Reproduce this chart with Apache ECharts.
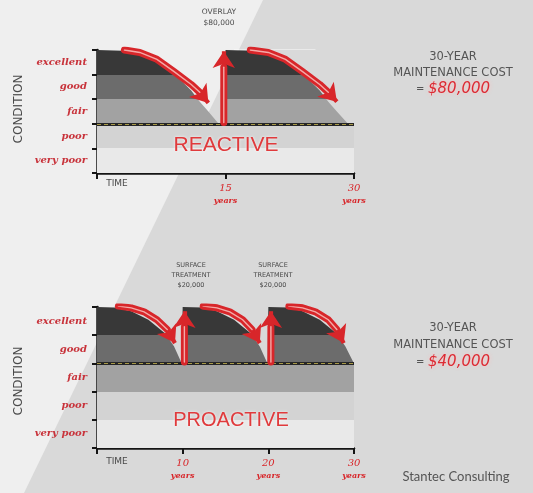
<!DOCTYPE html>
<html><head><meta charset="utf-8">
<script src="https://cdn.jsdelivr.net/npm/echarts@6/dist/echarts.min.js"></script>
<style>html,body{margin:0;padding:0;background:#efefef}#c{width:533px;height:493px}</style>
</head><body><div id="c"></div><script>
// ---- data ----
const conditionLevels = ['very poor', 'poor', 'fair', 'good', 'excellent'];
const reactiveTicks = [15, 30];
const proactiveTicks = [10, 20, 30];

const reactiveYears = [0, 3, 5, 7, 9, 10, 11, 12, 13, 14.2, 15, 15, 18, 20, 22, 24, 25, 26, 27, 28, 29.3, 30];
const reactiveCondition = [5, 4.97, 4.82, 4.55, 4.0, 3.7, 3.35, 2.9, 2.5, 2.0, 2.0, 5, 4.97, 4.82, 4.55, 4.0, 3.7, 3.35, 2.9, 2.5, 2.0, 2.0];
const reactiveThreshold = 2;

const proactiveYears = [0, 2, 4, 6, 8, 9, 9.9, 10, 10, 12.3, 14, 16, 18, 19, 19.9, 20, 20, 22.3, 24, 26, 28, 29, 30];
const proactiveCondition = [5, 4.98, 4.85, 4.55, 4.05, 3.6, 3.0, 3.0, 5, 4.98, 4.85, 4.55, 4.05, 3.6, 3.0, 3.0, 5, 4.98, 4.85, 4.55, 4.05, 3.6, 3.0];
const proactiveThreshold = 3;

// decorative arrows [year, condition]
const reactiveDownArrows = [
  [[3.2, 5.0], [5, 4.9], [7, 4.62], [9, 4.12], [11, 3.6], [12, 3.28], [13, 2.85]],
  [[17.9, 5.0], [20, 4.9], [22, 4.62], [24, 4.12], [26, 3.6], [27, 3.28], [28, 2.9]]
];
const reactiveUpArrows = [[[14.8, 2.05], [14.8, 4.3], [14.8, 4.95]]];
const proactiveDownArrows = [
  [[2.5, 5.03], [4, 4.97], [5.5, 4.83], [7, 4.55], [8.2, 4.2], [9.1, 3.72]],
  [[12.4, 5.03], [14, 4.97], [15.5, 4.83], [17, 4.55], [18.1, 4.2], [19.0, 3.72]],
  [[22.4, 5.03], [24, 4.97], [25.5, 4.83], [27, 4.55], [28, 4.2], [28.8, 3.72]]
];
const proactiveUpArrows = [[[10.2, 3.05], [10.2, 4.3], [10.2, 4.85]], [[20.3, 3.05], [20.3, 4.3], [20.3, 4.85]]];
const reactiveTopLine = [[16, 5.02], [25.5, 5.02]];

// ---- chart ----
const RED = '#d8262a';
const bandPieces = [
  { gte: 0, lt: 1, color: '#e9e9e9' },
  { gte: 1, lt: 2, color: '#d3d3d3' },
  { gte: 2, lt: 3, color: '#a2a2a2' },
  { gte: 3, lt: 4, color: '#6c6c6c' },
  { gte: 4, lte: 6, color: '#383838' }
];

function zip(xs, ys) { return xs.map((x, i) => [x, ys[i]]); }

function arrowSeries(paths, xi, yi, w) {
  const bodies = paths.map(p => ({ coords: p.slice(0, -1) }));
  const heads = paths.map(p => ({ coords: p.slice(-2) }));
  return [
    { type: 'lines', coordinateSystem: 'cartesian2d', xAxisIndex: xi, yAxisIndex: yi, polyline: true, z: 5,
      lineStyle: { color: RED, width: w, opacity: 1, cap: 'round', join: 'round' }, data: bodies, silent: true },
    { type: 'lines', coordinateSystem: 'cartesian2d', xAxisIndex: xi, yAxisIndex: yi, z: 5,
      symbol: ['none', 'arrow'], symbolSize: [w * 2.4, w * 2.4],
      lineStyle: { color: RED, width: w * 0.6, opacity: 1 }, data: heads, silent: true },
    { type: 'lines', coordinateSystem: 'cartesian2d', xAxisIndex: xi, yAxisIndex: yi, polyline: true, z: 6,
      lineStyle: { color: '#f6b9b6', width: w * 0.2, opacity: 0.9, cap: 'round' }, data: bodies, silent: true }
  ];
}

function xAxisCfg(gi, interval) {
  return {
    gridIndex: gi, type: 'value', min: 0, max: 30, interval: interval,
    axisLine: { lineStyle: { color: '#151515', width: 2.5 } },
    axisTick: { length: 6, lineStyle: { color: '#151515', width: 2 } },
    splitLine: { show: false },
    axisLabel: {
      margin: 9, lineHeight: 13,
      formatter: v => v === 0 ? '' : '{n|' + v + '}\n{y|years}',
      rich: {
        n: { color: RED, fontSize: 10, fontStyle: 'italic', fontFamily: 'DejaVu Serif', lineHeight: 13 },
        y: { color: RED, fontSize: 8, fontStyle: 'italic', fontWeight: 'bold', fontFamily: 'DejaVu Serif', lineHeight: 12 }
      }
    }
  };
}
function yValueCfg(gi) {
  return {
    gridIndex: gi, type: 'value', min: 0, max: 5, interval: 1, position: 'left',
    axisLine: { show: true, lineStyle: { color: '#151515', width: 2.5 } },
    axisTick: { show: true, length: 5, lineStyle: { color: '#151515', width: 2 } },
    axisLabel: { show: false }, splitLine: { show: false }
  };
}
function yCatCfg(gi) {
  return {
    gridIndex: gi, type: 'category', data: conditionLevels, position: 'left', boundaryGap: true,
    axisLine: { show: false }, axisTick: { show: false }, splitLine: { show: false },
    axisLabel: { margin: 10, color: '#c8323a', fontSize: 10, fontStyle: 'italic', fontWeight: 'bold', fontFamily: 'DejaVu Serif' }
  };
}

function dashedThreshold(level) {
  return {
    silent: true, symbol: 'none', z: 4, label: { show: false },
    data: [
      { yAxis: level, lineStyle: { color: '#262626', width: 3, type: 'solid' } },
      { yAxis: level, lineStyle: { color: '#a89a48', width: 1.2, type: [4, 3] } }
    ]
  };
}

const smallCaps = { fontFamily: 'DejaVu Sans', fill: '#4a4a4a', align: 'center', verticalAlign: 'middle' };
function txt(x, y, text, style, rot) {
  return { type: 'text', x: x, y: y, z: 50, rotation: rot || 0, style: Object.assign({}, smallCaps, { text: text }, style) };
}

const costRich = {
  e: { fontSize: 10, fill: '#555', fontFamily: 'DejaVu Sans' },
  r: { fontSize: 15, fill: '#dd2a33', fontFamily: 'DejaVu Sans', fontStyle: 'italic',
       textShadowColor: 'rgba(255,190,190,0.95)', textShadowBlur: 4 }
};

const option = {
  backgroundColor: '#efefef',
  animation: false,
  grid: [
    { left: 97, top: 50, width: 257, height: 123 },
    { left: 97, top: 307, width: 257, height: 141 }
  ],
  xAxis: [xAxisCfg(0, 15), xAxisCfg(1, 10)],
  yAxis: [yValueCfg(0), yCatCfg(0), yValueCfg(1), yCatCfg(1)],
  visualMap: [
    { show: false, type: 'piecewise', seriesIndex: 0, dimension: 1, pieces: bandPieces },
    { show: false, type: 'piecewise', seriesIndex: 1, dimension: 1, pieces: bandPieces }
  ],
  graphic: [
    { type: 'polygon', z: -100, silent: true, shape: { points: [[263, 0], [533, 0], [533, 493], [24, 493]] }, style: { fill: '#d9d9d9' } },
    txt(19, 109, 'CONDITION', { fontSize: 12 }, Math.PI / 2),
    txt(19, 381, 'CONDITION', { fontSize: 12 }, Math.PI / 2),
    txt(117, 184, 'TIME', { fontSize: 9 }),
    txt(117, 462, 'TIME', { fontSize: 9 }),
    txt(219, 18, 'OVERLAY\n$80,000', { fontSize: 7.5, lineHeight: 11 }),
    txt(191, 275, 'SURFACE\nTREATMENT\n$20,000', { fontSize: 6.5, lineHeight: 10 }),
    txt(273, 275, 'SURFACE\nTREATMENT\n$20,000', { fontSize: 6.5, lineHeight: 10 }),
    txt(453, 73, '30-YEAR\nMAINTENANCE COST\n{e|=} {r|$80,000}', { fontSize: 11.5, lineHeight: 16, fill: '#555', rich: costRich }),
    txt(453, 345, '30-YEAR\nMAINTENANCE COST\n{e|=} {r|$40,000}', { fontSize: 11.5, lineHeight: 17, fill: '#555', rich: costRich }),
    txt(226, 145, 'REACTIVE', { fontSize: 21, fill: '#e03a3c', fontFamily: 'Liberation Sans', textShadowColor: 'rgba(255,255,255,0.9)', textShadowBlur: 3 }),
    txt(231, 420, 'PROACTIVE', { fontSize: 20, fill: '#e03a3c', fontFamily: 'Liberation Sans', textShadowColor: 'rgba(255,255,255,0.9)', textShadowBlur: 3 }),
    txt(456, 477, 'Stantec Consulting', { fontSize: 13, fill: '#555', fontFamily: 'Lato' })
  ],
  series: [
    { type: 'line', xAxisIndex: 0, yAxisIndex: 0, data: zip(reactiveYears, reactiveCondition), symbol: 'none',
      lineStyle: { width: 0 }, areaStyle: { opacity: 1 }, z: 2, silent: true,
      markLine: dashedThreshold(reactiveThreshold) },
    { type: 'line', xAxisIndex: 1, yAxisIndex: 2, data: zip(proactiveYears, proactiveCondition), symbol: 'none',
      lineStyle: { width: 0 }, areaStyle: { opacity: 1 }, z: 2, silent: true,
      markLine: dashedThreshold(proactiveThreshold) },
    { type: 'lines', coordinateSystem: 'cartesian2d', xAxisIndex: 0, yAxisIndex: 0, z: 4, silent: true,
      lineStyle: { color: '#ffffff', width: 1.2, opacity: 0.9 }, data: [{ coords: reactiveTopLine }] },
    ...arrowSeries(reactiveDownArrows, 0, 0, 7),
    ...arrowSeries(reactiveUpArrows, 0, 0, 7),
    ...arrowSeries(proactiveDownArrows, 1, 2, 7),
    ...arrowSeries(proactiveUpArrows, 1, 2, 7)
  ]
};

const chart = echarts.init(document.getElementById('c'), null, { renderer: 'canvas' });
chart.setOption(option);
</script></body></html>
